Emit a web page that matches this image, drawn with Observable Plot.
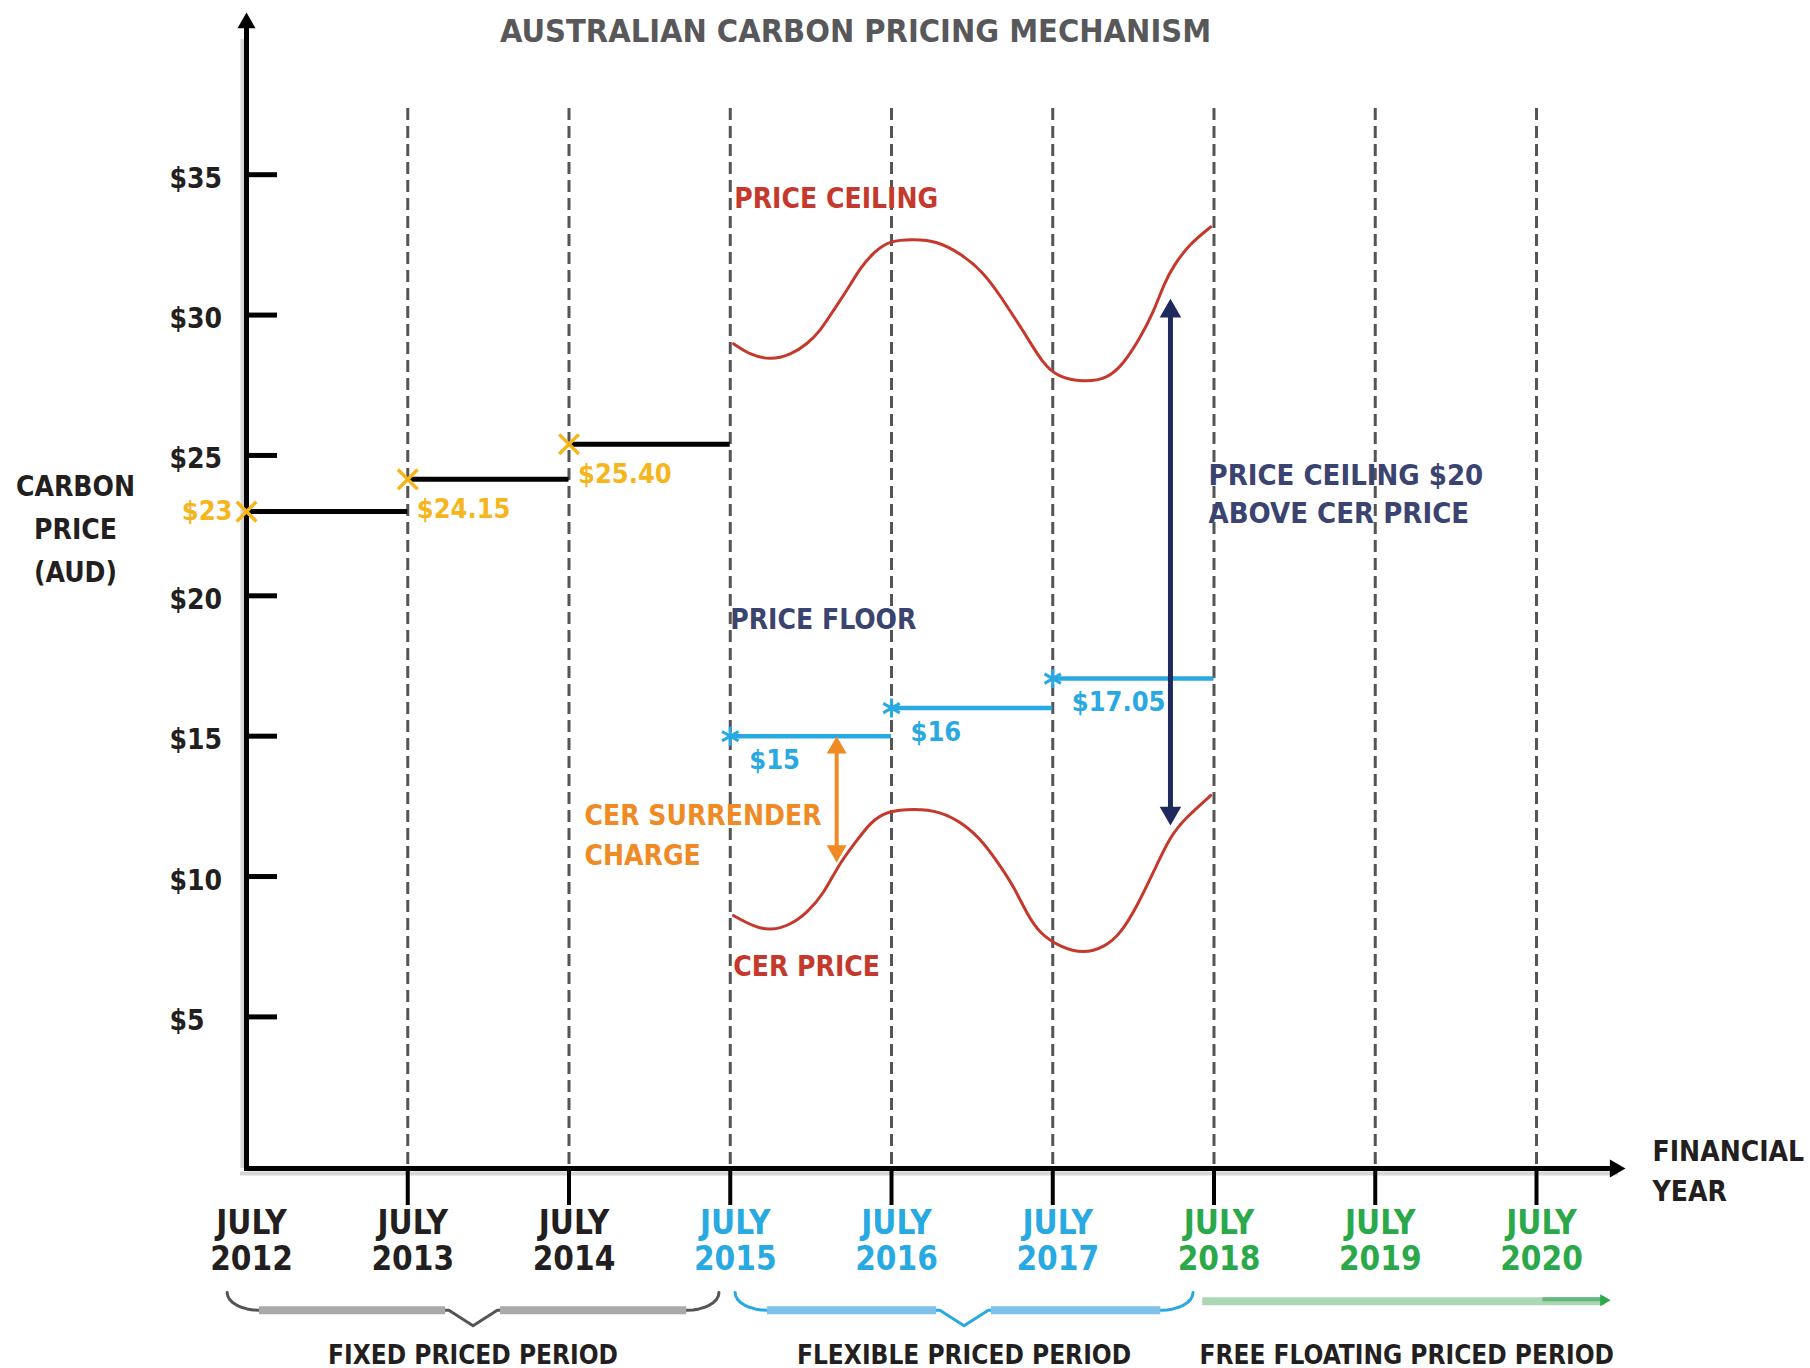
<!DOCTYPE html>
<html>
<head>
<meta charset="utf-8">
<script src="https://cdn.jsdelivr.net/npm/d3@7"></script>
<script src="https://cdn.jsdelivr.net/npm/@observablehq/plot@0.6"></script>
<style>
  html, body { margin: 0; padding: 0; background: #fff; }
  #chart svg { display: block; }
</style>
</head>
<body>
<div id="chart"></div>
<script>
// ---- data -------------------------------------------------------------
const years = [2012, 2013, 2014, 2015, 2016, 2017, 2018, 2019, 2020];
const yearPhase = [0, 0, 0, 1, 1, 1, 2, 2, 2];
const priceTicks = [5, 10, 15, 20, 25, 30, 35];

// fixed carbon price, one value per financial year
const fixedStart = [2012, 2013, 2014];
const fixedPrice = [23, 24.15, 25.40];
const fixedLabel = ["$23", "$24.15", "$25.40"];

// price floor during the flexible period
const floorStart = [2015, 2016, 2017];
const floorPrice = [15, 16, 17.05];
const floorLabel = ["$15", "$16", "$17.05"];

// indicative price ceiling path
const ceilingYear = [2015.02, 2015.13, 2015.25, 2015.37, 2015.48, 2015.56, 2015.64, 2015.73, 2015.81, 2015.89,
  2015.99, 2016.14, 2016.28, 2016.43, 2016.57, 2016.68, 2016.76, 2016.84, 2016.94, 2017.03, 2017.19, 2017.34,
  2017.44, 2017.54, 2017.63, 2017.69, 2017.75, 2017.85, 2017.98];
const ceilingPrice = [28.98, 28.56, 28.41, 28.56, 28.98, 29.45, 30.17, 30.94, 31.71, 32.24,
  32.66, 32.70, 32.64, 32.19, 31.53, 30.64, 29.93, 29.22, 28.27, 27.79, 27.61, 27.73,
  28.27, 29.16, 30.17, 31.12, 31.77, 32.54, 33.14];

// indicative CER (international unit) price path
const cerYear = [2015.02, 2015.15, 2015.25, 2015.37, 2015.48, 2015.58, 2015.67, 2015.77, 2015.87, 2015.97,
  2016.14, 2016.30, 2016.45, 2016.57, 2016.68, 2016.76, 2016.84, 2016.92, 2017.05, 2017.19, 2017.32,
  2017.42, 2017.52, 2017.63, 2017.73, 2017.83, 2017.98];
const cerPrice = [8.61, 8.20, 8.08, 8.26, 8.73, 9.39, 10.40, 11.17, 11.94, 12.33,
  12.42, 12.33, 11.88, 11.23, 10.33, 9.62, 8.67, 7.96, 7.48, 7.25, 7.48,
  7.96, 8.91, 10.22, 11.46, 12.12, 12.89];

// CER surrender charge (floor down to CER price)
const surrenderYear = 2015.66;
const surrenderFrom = 15;
const surrenderTo = 10.5;

// ceiling set $20 above CER price
const gapYear = 2017.73;
const gapTop = 30.58;
const gapBottom = 11.82;

// pricing periods
const periodName = ["FIXED PRICED PERIOD", "FLEXIBLE PRICED PERIOD", "FREE FLOATING PRICED PERIOD"];
const periodFrom = [2011.88, 2015.03, 2017.93];
const periodTo = [2014.93, 2017.87, 2020.46];

// ---- layout & styles --------------------------------------------------
const W = 1810, H = 1368;
const M = {top: 17, right: 274, bottom: 200, left: 246};
const frameW = W - M.left - M.right;
const frameH = H - M.top - M.bottom;
const yDomain = [-0.4, 40.6];
const FONT = "'DejaVu Sans Condensed', 'DejaVu Sans', sans-serif";

const C = {
  ink: "#231f20", title: "#58585b", grid: "#555555", shadow: "#d6d6d6",
  gold: "#f6b51d", blue: "#29a9e1", green: "#2ba84a", red: "#c4392c",
  orange: "#ef8a25", navy: "#1e2a5c", slate: "#3b4470",
  braceGray: "#aaaaaa", braceBlue: "#7fc1e8", arrowGreen: "#acd7b6", arrowGreenDark: "#62b97b"
};
const phaseColor = [C.ink, C.blue, C.green];

// ---- derived tables ---------------------------------------------------
const fixed = fixedStart.map((s, i) => ({start: s, end: s + 1, price: fixedPrice[i], label: fixedLabel[i]}));
const floor = floorStart.map((s, i) => ({start: s, end: s + 1, price: floorPrice[i], label: floorLabel[i]}));
const ceiling = ceilingYear.map((x, i) => ({x, y: ceilingPrice[i]}));
const cer = cerYear.map((x, i) => ({x, y: cerPrice[i]}));
const xLabels = years.map((y, i) => ({x: y, text: `JULY\n${y}`, color: phaseColor[yearPhase[i]]}));
const periods = periodName.map((name, i) => ({name, from: periodFrom[i], to: periodTo[i], mid: (periodFrom[i] + periodTo[i]) / 2}));

// curly brace outline below the axis for a period
const braceEnd = -4.82, braceFlat = -5.45, braceTip = -6.0, curl = 0.2, tipHalf = 0.15;
function bracePath(p, k) {
  const pts = [];
  const n = 8;
  for (let j = 0; j <= n; j++) {
    const t = (j / n) * Math.PI / 2;
    pts.push({x: p.from + curl * (1 - Math.cos(t)), y: braceEnd + (braceFlat - braceEnd) * Math.sin(t), k});
  }
  pts.push({x: p.mid - tipHalf, y: braceFlat, k});
  pts.push({x: p.mid, y: braceTip, k});
  pts.push({x: p.mid + tipHalf, y: braceFlat, k});
  for (let j = n; j >= 0; j--) {
    const t = (j / n) * Math.PI / 2;
    pts.push({x: p.to - curl * (1 - Math.cos(t)), y: braceEnd + (braceFlat - braceEnd) * Math.sin(t), k});
  }
  return pts;
}
const braceLines = [bracePath(periods[0], 0), bracePath(periods[1], 1)].flat();
const braceFlats = [0, 1].flatMap(k => {
  const p = periods[k];
  return [
    {x1: p.from + curl, x2: p.mid - tipHalf - 0.02, y: braceFlat, k},
    {x1: p.mid + tipHalf + 0.02, x2: p.to - curl, y: braceFlat, k}
  ];
});
const braceStroke = [C.grid, C.blue];
const braceFill = [C.braceGray, C.braceBlue];
const floatY = -5.13;

// triangle arrowhead: tip sits 1.555 r from the symbol centre
const tip = r => 1.555 * r;

const text = {fontFamily: FONT, fontWeight: "bold", fontSize: 28, lineAnchor: "middle"};

const chart = Plot.plot({
  width: W, height: H,
  marginTop: M.top, marginRight: M.right, marginBottom: M.bottom, marginLeft: M.left,
  x: {domain: [years[0], years[years.length - 1]], axis: null},
  y: {domain: yDomain, axis: null},
  style: {fontFamily: FONT, background: "#fff", overflow: "visible"},
  marks: [
    // dashed guides at each July
    Plot.ruleX(years.slice(1), {x: d => d, insetTop: 91, stroke: C.grid, strokeWidth: 3, strokeDasharray: "12 6"}),
    // axis shadows
    Plot.ruleX([years[0]], {x: d => d, dx: -4, insetTop: 22, stroke: C.shadow, strokeWidth: 4}),
    Plot.ruleY([yDomain[0]], {y: d => d, dy: 5, insetLeft: -6, insetRight: -82, stroke: C.shadow, strokeWidth: 4}),
    // axes
    Plot.ruleX([years[0]], {x: d => d, insetTop: 8, stroke: "#000", strokeWidth: 5}),
    Plot.ruleY([yDomain[0]], {y: d => d, insetLeft: -2, insetRight: -80, stroke: "#000", strokeWidth: 5}),
    Plot.dot([[years[0], yDomain[1]]], {symbol: "triangle", r: 6.7, fill: "#000", dy: tip(6.7) - 5}),
    Plot.dot([[years[years.length - 1], yDomain[0]]], {symbol: "triangle", r: 6.7, fill: "#000", rotate: 90, dx: 89 - tip(6.7)}),
    // ticks
    Plot.tickY(priceTicks, {y: d => d, insetRight: frameW - 31, stroke: "#000", strokeWidth: 5}),
    Plot.tickX(years.slice(1), {x: d => d, insetTop: frameH, insetBottom: -37, stroke: "#000", strokeWidth: 4}),
    // tick labels
    Plot.text(priceTicks, {y: d => d, text: d => `$${d}`, frameAnchor: "left", dx: -77, dy: 4, textAnchor: "start", fill: C.ink, ...text}),
    Plot.text(xLabels, {x: "x", text: "text", fill: "color", frameAnchor: "bottom", dx: 5, dy: 72, ...text, lineHeight: 1.08, fontSize: 33}),
    // axis titles
    Plot.text(["CARBON\nPRICE\n(AUD)"], {frameAnchor: "left", dx: -171, dy: -68, textAnchor: "middle", fill: C.ink, ...text, lineHeight: 1.55}),
    Plot.text(["FINANCIAL\nYEAR"], {frameAnchor: "bottom-right", dx: 116, textAnchor: "start", fill: C.ink, ...text, lineHeight: 1.43}),
    Plot.text(["AUSTRALIAN CARBON PRICING MECHANISM"], {frameAnchor: "top", dx: -36, dy: 14, fill: C.title, ...text, fontSize: 32.3}),

    // fixed price steps
    Plot.ruleY(fixed, {x1: "start", x2: "end", y: "price", stroke: "#000", strokeWidth: 5}),
    Plot.dot(fixed, {x: "start", y: "price", symbol: "times", r: 9, stroke: C.gold, strokeWidth: 3.5}),
    Plot.text(fixed.slice(0, 1), {x: "start", y: "price", text: "label", textAnchor: "end", dx: -14, fill: C.gold, ...text, fontSize: 27}),
    Plot.text(fixed.slice(1), {x: "start", y: "price", text: "label", textAnchor: "start", dx: 9, dy: 30, fill: C.gold, ...text, fontSize: 27}),

    // price floor steps
    Plot.ruleY(floor, {x1: "start", x2: "end", y: "price", stroke: C.blue, strokeWidth: 4.5}),
    Plot.dot(floor, {x: "start", y: "price", symbol: "asterisk", r: 9, stroke: C.blue, strokeWidth: 3}),
    Plot.text(floor, {x: "start", y: "price", text: "label", textAnchor: "start", dx: 19, dy: 24, fill: C.blue, ...text, fontSize: 27}),

    // ceiling and CER paths
    Plot.line(ceiling, {x: "x", y: "y", curve: "basis", stroke: C.red, strokeWidth: 3}),
    Plot.line(cer, {x: "x", y: "y", curve: "basis", stroke: C.red, strokeWidth: 3}),

    // CER surrender charge arrow
    Plot.ruleX([{x: surrenderYear, y1: surrenderFrom, y2: surrenderTo}], {x: "x", y1: "y1", y2: "y2", insetTop: 10, insetBottom: 10, stroke: C.orange, strokeWidth: 4}),
    Plot.dot([{x: surrenderYear, y: surrenderFrom}], {x: "x", y: "y", symbol: "triangle", r: 7.4, fill: C.orange, dy: tip(7.4)}),
    Plot.dot([{x: surrenderYear, y: surrenderTo}], {x: "x", y: "y", symbol: "triangle", r: 7.4, fill: C.orange, rotate: 180, dy: -tip(7.4)}),

    // ceiling-to-CER gap arrow
    Plot.ruleX([{x: gapYear, y1: gapTop, y2: gapBottom}], {x: "x", y1: "y1", y2: "y2", insetTop: 10, insetBottom: 10, stroke: C.navy, strokeWidth: 5}),
    Plot.dot([{x: gapYear, y: gapTop}], {x: "x", y: "y", symbol: "triangle", r: 8, fill: C.navy, dy: tip(8)}),
    Plot.dot([{x: gapYear, y: gapBottom}], {x: "x", y: "y", symbol: "triangle", r: 8, fill: C.navy, rotate: 180, dy: -tip(8)}),

    // annotations
    Plot.text([{x: floorStart[0], y: 34.12, t: "PRICE CEILING"}], {x: "x", y: "y", text: "t", textAnchor: "start", dx: 4, fill: C.red, ...text}),
    Plot.text([{x: floorStart[0], y: 19.12, t: "PRICE FLOOR"}], {x: "x", y: "y", text: "t", textAnchor: "start", dx: 0, fill: C.slate, ...text}),
    Plot.text([{x: floorStart[0], y: 6.76, t: "CER PRICE"}], {x: "x", y: "y", text: "t", textAnchor: "start", dx: 3, fill: C.red, ...text}),
    Plot.text([{x: 2014.096, y: 11.59, t: "CER SURRENDER\nCHARGE"}], {x: "x", y: "y", text: "t", textAnchor: "start", fill: C.orange, ...text, lineHeight: 1.46}),
    Plot.text([{x: 2017.966, y: 23.72, t: "PRICE CEILING $20\nABOVE CER PRICE"}], {x: "x", y: "y", text: "t", textAnchor: "start", fill: C.slate, ...text, fontSize: 29, lineHeight: 1.32}),

    // period braces and labels
    Plot.line(braceLines, {x: "x", y: "y", z: "k", stroke: d => braceStroke[d.k], strokeWidth: 3, curve: "linear"}),
    Plot.ruleY(braceFlats, {x1: "x1", x2: "x2", y: "y", stroke: d => braceFill[d.k], strokeWidth: 8}),
    Plot.ruleY([periods[2]], {x1: "from", x2: "to", y: () => floatY, insetRight: 6, stroke: C.arrowGreen, strokeWidth: 8}),
    Plot.ruleY([periods[2]], {x1: d => d.to - 0.42, x2: "to", y: () => floatY, dy: -2, insetRight: 6, stroke: C.arrowGreenDark, strokeWidth: 4}),
    Plot.dot([periods[2]], {x: "to", y: () => floatY, symbol: "triangle", r: 4.5, rotate: 90, dx: -tip(4.5), dy: -1, fill: C.green}),
    Plot.text(periods, {x: "mid", text: "name", frameAnchor: "bottom", dy: 187, fill: C.ink, ...text, fontSize: 26})
  ]
});

document.getElementById("chart").appendChild(chart);
</script>
</body>
</html>
